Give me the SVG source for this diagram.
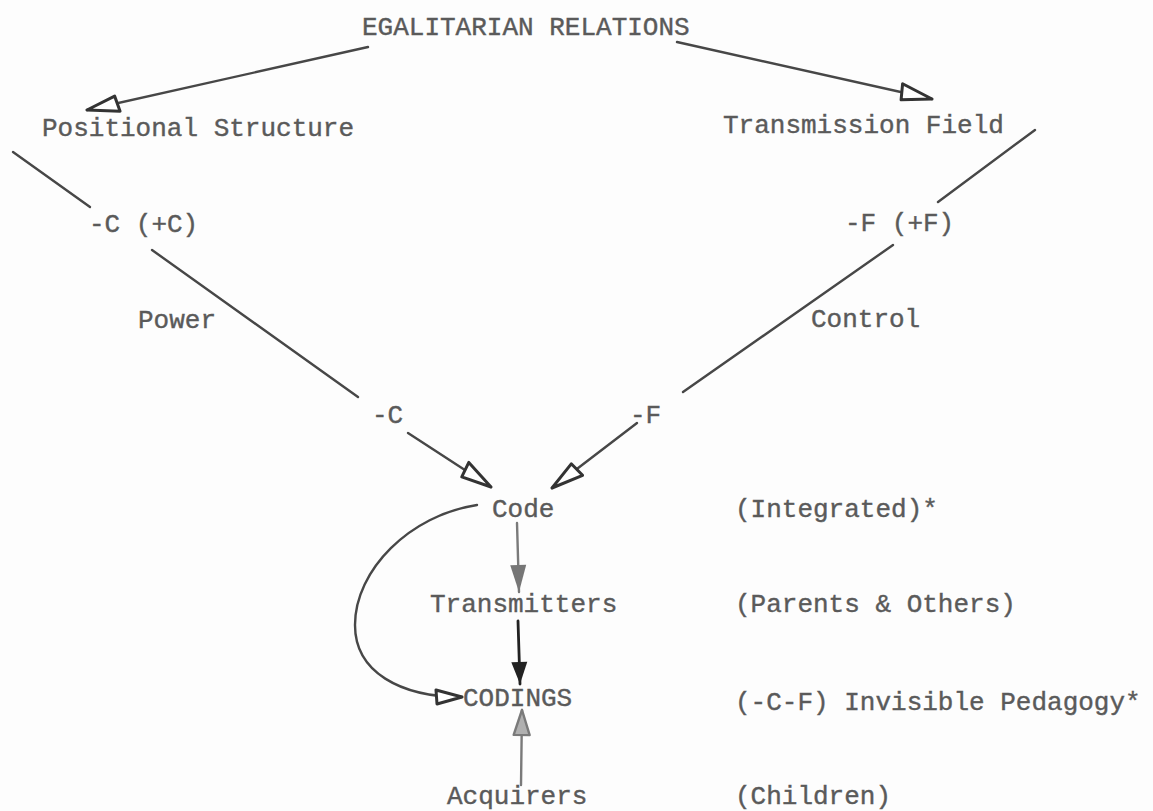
<svg xmlns="http://www.w3.org/2000/svg" width="1153" height="811" viewBox="0 0 1153 811">
  <style>
    .t { font-family: "Liberation Mono", "Courier New", monospace; font-size: 26px; fill: #5a5a5a; stroke: #5a5a5a; stroke-width: 0.4; }
    .ln { fill: none; stroke: #474747; stroke-width: 2.4; stroke-linecap: round; }
    .gray { stroke: #7a7a7a; }
    .dark { stroke: #222; stroke-width: 2.8; }
  </style>
  <defs>
    <marker id="open" markerUnits="userSpaceOnUse" viewBox="-40 -14 44 28" refX="0" refY="0" markerWidth="44" markerHeight="28" orient="auto">
      <path d="M0,0 L-32,-8.5 L-30,7.5 Z" fill="#fff" stroke="#333" stroke-width="3" stroke-linejoin="round"/>
    </marker>
    <marker id="openSmall" markerUnits="userSpaceOnUse" viewBox="-40 -14 44 28" refX="0" refY="0" markerWidth="44" markerHeight="28" orient="auto">
      <path d="M0,0 L-26,-7 L-25,7 Z" fill="#fff" stroke="#333" stroke-width="3" stroke-linejoin="round"/>
    </marker>
    <marker id="solidGray" markerUnits="userSpaceOnUse" viewBox="-32 -12 36 24" refX="0" refY="0" markerWidth="36" markerHeight="24" orient="auto">
      <path d="M0,0 L-27,-8 L-27,8 Z" fill="#767676"/>
    </marker>
    <marker id="solidDark" markerUnits="userSpaceOnUse" viewBox="-32 -12 36 24" refX="0" refY="0" markerWidth="36" markerHeight="24" orient="auto">
      <path d="M0,0 L-22,-8 L-22,8 Z" fill="#222"/>
    </marker>
    <marker id="openGray" markerUnits="userSpaceOnUse" viewBox="-32 -12 36 24" refX="0" refY="0" markerWidth="36" markerHeight="24" orient="auto">
      <path d="M0,0 L-25,-8 L-25,8 Z" fill="#b0b0b0" stroke="#7a7a7a" stroke-width="2.4" stroke-linejoin="round"/>
    </marker>
  </defs>

  <rect width="1153" height="811" fill="#fdfdfd"/>

  <!-- connectors -->
  <g id="connectors">
    <line class="ln" x1="368" y1="47" x2="87" y2="110" marker-end="url(#open)"/>
    <line class="ln" x1="677" y1="42" x2="932" y2="99" marker-end="url(#open)"/>
    <line class="ln" x1="13" y1="152" x2="90" y2="207"/>
    <line class="ln" x1="1035" y1="130" x2="938" y2="202"/>
    <line class="ln" x1="152" y1="250" x2="358" y2="397"/>
    <line class="ln" x1="893" y1="245" x2="683" y2="392"/>
    <line class="ln" x1="408" y1="433" x2="491" y2="487" stroke="#2c2c2c" marker-end="url(#open)"/>
    <line class="ln" x1="637" y1="423" x2="552" y2="488" marker-end="url(#open)"/>
    <line class="ln gray" x1="517" y1="523" x2="519" y2="592" marker-end="url(#solidGray)"/>
    <line class="ln dark" x1="518" y1="621" x2="520" y2="684" marker-end="url(#solidDark)"/>
    <line class="ln gray" x1="521" y1="785" x2="522" y2="710" marker-end="url(#openGray)"/>
    <path class="ln" d="M477,505 C410,515 355,570 355,625 C355,672 400,697 462,697" stroke="#4a4a4a" marker-end="url(#openSmall)"/>
  </g>

  <!-- nodes -->
  <g id="egalitarian"><text class="t" x="362" y="35">EGALITARIAN RELATIONS</text></g>
  <g id="positional"><text class="t" x="42" y="136">Positional Structure</text></g>
  <g id="transmission-field"><text class="t" x="723" y="133">Transmission Field</text></g>
  <g id="c-plus"><text class="t" x="89" y="232">-C (+C)</text></g>
  <g id="f-plus"><text class="t" x="845" y="231">-F (+F)</text></g>
  <g id="power"><text class="t" x="138" y="328">Power</text></g>
  <g id="control"><text class="t" x="811" y="327">Control</text></g>
  <g id="minus-c"><text class="t" x="372" y="423">-C</text></g>
  <g id="minus-f"><text class="t" x="630" y="423">-F</text></g>
  <g id="code"><text class="t" x="492" y="517">Code</text></g>
  <g id="integrated"><text class="t" x="735" y="517">(Integrated)*</text></g>
  <g id="transmitters"><text class="t" x="430" y="612">Transmitters</text></g>
  <g id="parents"><text class="t" x="735" y="612">(Parents &amp; Others)</text></g>
  <g id="codings"><text class="t" x="463" y="706">CODINGS</text></g>
  <g id="pedagogy"><text class="t" x="735" y="710">(-C-F) Invisible Pedagogy*</text></g>
  <g id="acquirers"><text class="t" x="447" y="804">Acquirers</text></g>
  <g id="children"><text class="t" x="735" y="804">(Children)</text></g>
</svg>
